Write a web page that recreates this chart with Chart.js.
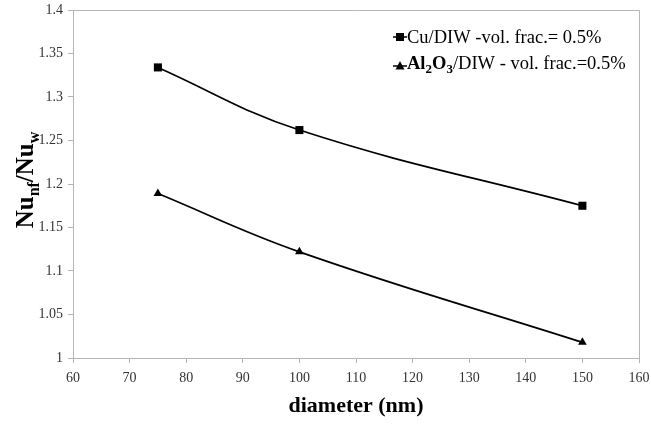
<!DOCTYPE html>
<html><head><meta charset="utf-8">
<script src="https://cdn.jsdelivr.net/npm/chart.js@4.4.1/dist/chart.umd.min.js"></script>
<style>html,body{margin:0;padding:0;background:#fff}#wrap{width:651px;height:425px;position:relative}</style>
</head><body><div id="wrap"><canvas id="c" width="651" height="425"></canvas></div>
<script>
const diameters = [75, 100, 150];
const cuValues = [1.334, 1.262, 1.175];
const alValues = [1.189, 1.122, 1.018];
const xTickValues = [60, 70, 80, 90, 100, 110, 120, 130, 140, 150, 160];
const yTickValues = [1, 1.05, 1.1, 1.15, 1.2, 1.25, 1.3, 1.35, 1.4];
const cuLabel = 'Cu/DIW -vol. frac.= 0.5%';
const alLabelParts = [['Al', 'b'], ['2', 'sub'], ['O', 'b'], ['3', 'sub'], ['/DIW - vol. frac.=0.5%', 'r']];
const yTitleParts = [['Nu', 'b'], ['nf', 'sub'], ['/', 'b'], ['Nu', 'b'], ['w', 'sub']];
const xTitle = 'diameter (nm)';

const SERIF = '"Liberation Serif", "Times New Roman", serif';
const AXIS_GRAY = '#b5b5b5';

function drawMarker(ctx, type, x, y) {
  ctx.save();
  ctx.fillStyle = '#000';
  ctx.beginPath();
  if (type === 'rect') {
    ctx.rect(x - 4, y - 4, 8, 8);
  } else {
    ctx.moveTo(x, y - 5);
    ctx.lineTo(x + 4.5, y + 3.5);
    ctx.lineTo(x - 4.5, y + 3.5);
    ctx.closePath();
  }
  ctx.fill();
  ctx.restore();
}

function drawParts(ctx, parts, x, y, bigSize, subSize, subShift) {
  let cx = x;
  for (const [t, kind] of parts) {
    if (kind === 'sub') {
      ctx.font = 'bold ' + subSize + 'px ' + SERIF;
      ctx.fillText(t, cx, y + subShift);
    } else if (kind === 'b') {
      ctx.font = 'bold ' + bigSize + 'px ' + SERIF;
      ctx.fillText(t, cx, y);
    } else {
      ctx.font = bigSize + 'px ' + SERIF;
      ctx.fillText(t, cx, y);
    }
    cx += ctx.measureText(t).width;
  }
  return cx - x;
}

function measureParts(ctx, parts, bigSize, subSize) {
  let w = 0;
  for (const [t, kind] of parts) {
    ctx.font = (kind === 'r' ? '' : 'bold ') + (kind === 'sub' ? subSize : bigSize) + 'px ' + SERIF;
    w += ctx.measureText(t).width;
  }
  return w;
}

const decorPlugin = {
  id: 'decor',
  afterDraw(chart) {
    const ctx = chart.ctx;
    const a = chart.chartArea;
    ctx.save();
    ctx.strokeStyle = AXIS_GRAY;
    ctx.lineWidth = 1;
    ctx.beginPath();
    ctx.moveTo(a.left, a.top + 0.5);
    ctx.lineTo(a.right + 0.5, a.top + 0.5);
    ctx.lineTo(a.right + 0.5, a.bottom);
    ctx.stroke();
    ctx.restore();

    // y title
    ctx.save();
    ctx.fillStyle = '#000';
    ctx.textBaseline = 'alphabetic';
    ctx.textAlign = 'left';
    const tw = measureParts(ctx, yTitleParts, 25, 16);
    ctx.translate(33, 180);
    ctx.rotate(-Math.PI / 2);
    drawParts(ctx, yTitleParts, -tw / 2, 0, 25, 16, 6);
    ctx.restore();

    // legend
    ctx.save();
    ctx.fillStyle = '#000';
    ctx.textBaseline = 'alphabetic';
    ctx.textAlign = 'left';
    ctx.strokeStyle = '#000';
    ctx.lineWidth = 1.5;
    const lx = 400, ly1 = 37, ly2 = 66;
    ctx.beginPath();
    ctx.moveTo(393, ly1); ctx.lineTo(407, ly1);
    ctx.moveTo(393, ly2); ctx.lineTo(407, ly2);
    ctx.stroke();
    drawMarker(ctx, 'rect', lx, ly1);
    drawMarker(ctx, 'tri', lx, ly2);
    ctx.font = '18.5px ' + SERIF;
    ctx.fillText(cuLabel, 407, ly1 + 6);
    drawParts(ctx, alLabelParts, 407, ly2 + 3, 18.5, 13, 4);
    ctx.restore();
  }
};

new Chart(document.getElementById('c'), {
  type: 'line',
  data: {
    datasets: [
      {
        label: cuLabel,
        data: diameters.map((d, i) => ({ x: d, y: cuValues[i] })),
        borderColor: '#000', backgroundColor: '#000', borderWidth: 1.7,
        pointStyle: 'rect', pointRadius: 5.7, pointBorderWidth: 0,
        tension: 0.4, fill: false
      },
      {
        label: 'Al2O3/DIW - vol. frac.=0.5%',
        data: diameters.map((d, i) => ({ x: d, y: alValues[i] })),
        borderColor: '#000', backgroundColor: '#000', borderWidth: 1.7,
        pointStyle: 'triangle', pointRadius: 5, pointBorderWidth: 0,
        tension: 0.4, fill: false
      }
    ]
  },
  options: {
    responsive: false,
    animation: false,
    devicePixelRatio: 1,
    layout: { padding: { top: 10, right: 12, left: 0, bottom: 0 } },
    plugins: { legend: { display: false }, tooltip: { enabled: false } },
    scales: {
      x: {
        type: 'linear', min: 60, max: 160,
        afterBuildTicks: s => { s.ticks = xTickValues.map(v => ({ value: v })); },
        afterFit: s => { s.height = 67; s.paddingLeft = 0; s.paddingRight = 0; },
        grid: { drawOnChartArea: false, drawTicks: true, tickLength: 5, color: AXIS_GRAY },
        border: { display: true, color: AXIS_GRAY, width: 1 },
        ticks: { color: '#333', padding: 7, font: { family: SERIF, size: 14 }, callback: v => String(v) },
        title: { display: true, text: xTitle, color: '#000', font: { family: SERIF, size: 22, weight: 'bold' }, padding: { top: 0, bottom: 5 } }
      },
      y: {
        type: 'linear', min: 1, max: 1.4,
        afterBuildTicks: s => { s.ticks = yTickValues.map(v => ({ value: v })); },
        afterFit: s => { s.width = 73; s.paddingTop = 0; s.paddingBottom = 0; },
        grid: { drawOnChartArea: false, drawTicks: true, tickLength: 5, color: AXIS_GRAY },
        border: { display: true, color: AXIS_GRAY, width: 1 },
        ticks: { color: '#333', padding: 5, font: { family: SERIF, size: 14 }, callback: v => String(+Number(v).toFixed(2)) }
      }
    }
  },
  plugins: [decorPlugin]
});
</script>
</body></html>
